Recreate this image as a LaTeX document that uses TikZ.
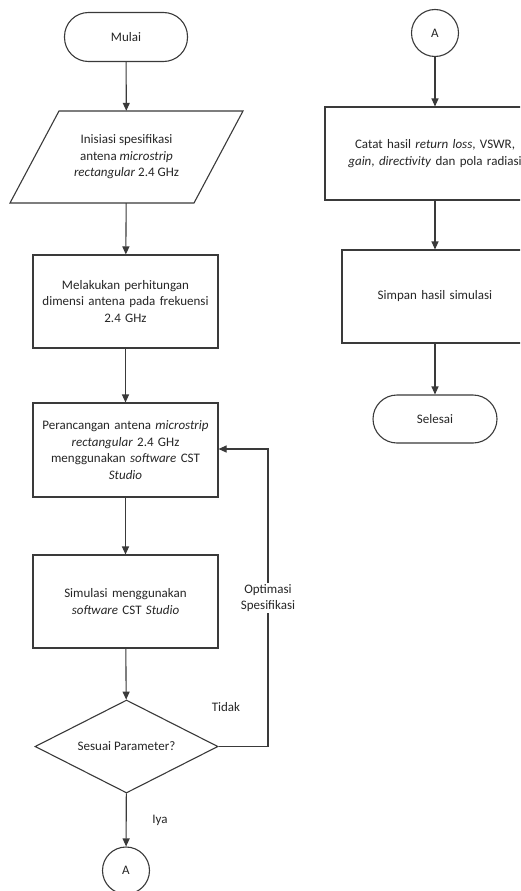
\documentclass[tikz,border=0pt]{standalone}
\usepackage{fontspec}
\setmainfont{Carlito}
\usetikzlibrary{arrows.meta,shapes.geometric}
\definecolor{ln}{HTML}{3A3A3A}
\begin{document}
\begin{tikzpicture}[x=1pt,y=-1pt,
  every node/.style={font=\fontsize{13}{16.5}\selectfont, text=black!85},
  term/.style={draw=ln, line width=1.1pt, rounded corners=24pt, minimum width=123pt, minimum height=49pt, inner sep=0pt},
  procbox/.style={draw=ln, line width=1.1pt, minimum width=185pt, minimum height=93pt, text width=172pt, align=center, inner sep=0pt},
  decbox/.style={draw=ln, line width=1.1pt, diamond, aspect=1.97, minimum width=183pt, minimum height=93pt, inner sep=0pt},
  conn/.style={draw=ln, line width=1.1pt, circle, minimum size=47pt, inner sep=0pt},
  arr/.style={draw=ln, line width=1.1pt, -{Triangle[length=8pt,width=7pt]}},
  plain/.style={draw=ln, line width=1.1pt},
  lbl/.style={fill=white, align=center, inner sep=1pt}
]
\useasboundingbox (0,0) rectangle (520,891);
\clip (0,0) rectangle (520,891);
\fill[white] (0,0) rectangle (520,891);

% left column
\node[term] (mulai) at (126,37) {Mulai};
\draw[plain] (59,111) -- (243,111) -- (194,203) -- (10,203) -- cycle;
\node[minimum height=92pt, minimum width=140pt, align=center, inner sep=0pt] (spec) at (126.5,157)
  {Inisiasi spesifikasi\\antena \textit{microstrip}\\\textit{rectangular} 2.4 GHz};
\node[procbox] (hitung) at (125.5,301.5) {Melakukan perhitungan\\dimensi antena pada frekuensi\\2.4 GHz};
\node[procbox, minimum height=94pt] (rancang) at (125.5,450) {Perancangan antena \textit{microstrip}\\\textit{rectangular} 2.4 GHz\\menggunakan \textit{software} CST\\\textit{Studio}};
\node[procbox] (simul) at (125.5,601.5) {Simulasi menggunakan\\\textit{software} CST \textit{Studio}};
\node[decbox] (sesuai) at (126.5,746.5) {Sesuai Parameter?};
\node[conn] (a1) at (126,870.5) {A};

\node (tidak) at (226,707) {Tidak};
\node (iya) at (160,820) {Iya};
\node[lbl] (opt) at (268,598) {Optimasi\\Spesifikasi};

\draw[arr] (mulai) -- (spec);
\draw[arr] (spec) -- (hitung);
\draw[arr] (hitung) -- (rancang);
\draw[arr] (rancang) -- (simul);
\draw[arr] (simul) -- (sesuai);
\draw[arr] (sesuai) -- (a1);
\draw[plain] (sesuai.east) -| (opt.south);
\draw[arr] (opt.north) |- ([yshift=1pt]rancang.east);

% right column
\node[conn] (a2) at (435,33) {A};
\node[procbox, minimum width=186pt, text width=220pt] (catat) at (435,153.5) {Catat hasil \textit{return loss}, VSWR,\\\textit{gain}, \textit{directivity} dan pola radiasi};
\node[procbox, minimum width=186pt] (simpan) at (435,296.5) {Simpan hasil simulasi};
\node[term, minimum width=124pt, minimum height=48pt] (selesai) at (435,419) {Selesai};

\draw[arr] (a2) -- (catat);
\draw[arr] (catat) -- (simpan);
\draw[arr] (simpan) -- (selesai);
\end{tikzpicture}
\end{document}
